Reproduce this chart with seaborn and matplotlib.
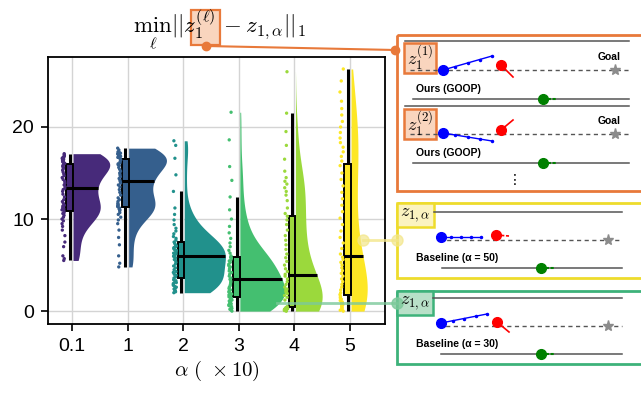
import numpy as np
import pandas as pd
import matplotlib
matplotlib.use("Agg")
import matplotlib.pyplot as plt
from matplotlib.patches import Rectangle
import seaborn as sns

np.random.seed(3)

alpha_labels = ['0.1', '1', '2', '3', '4', '5']

vals_a01 = [5.5, 5.7, 6.0, 7.0, 7.5, 8.2, 8.8, 9.2, 9.5, 9.8, 10.0, 10.2, 10.4, 10.6, 10.7,
            10.9, 11.0, 11.1, 11.2, 11.3, 11.4, 11.5, 11.7, 11.9, 12.1, 12.4, 12.7, 13.0, 13.2, 13.35,
            13.5, 13.7, 13.9, 14.1, 14.3, 14.5, 14.7, 14.9, 15.1, 15.3, 15.45, 15.6, 15.7, 15.8, 15.9,
            16.05, 16.1, 16.2, 16.25, 16.3, 16.4, 16.45, 16.5, 16.6, 16.65, 16.7, 16.8, 16.9, 17.0, 17.1]
vals_a1 = [4.8, 5.2, 6.0, 7.2, 8.0, 8.8, 9.5, 9.9, 10.2, 10.5, 10.7, 10.9, 11.0, 11.1, 11.2,
           11.35, 11.4, 11.5, 11.6, 11.7, 11.9, 12.1, 12.3, 12.6, 12.9, 13.2, 13.5, 13.7, 13.9, 14.05,
           14.2, 14.4, 14.6, 14.8, 15.0, 15.2, 15.4, 15.6, 15.8, 15.9, 16.0, 16.1, 16.25, 16.4, 16.5,
           16.65, 16.7, 16.75, 16.8, 16.85, 16.9, 16.95, 17.0, 17.05, 17.1, 17.15, 17.2, 17.3, 17.5, 17.7]
vals_a2 = [2.0, 2.1, 2.2, 2.3, 2.4, 2.5, 2.6, 2.7, 2.8, 2.9, 3.0, 3.1, 3.2, 3.3, 3.4,
           3.6, 3.7, 3.9, 4.0, 4.2, 4.3, 4.5, 4.7, 4.9, 5.1, 5.3, 5.5, 5.6, 5.8, 5.95,
           6.05, 6.1, 6.2, 6.3, 6.4, 6.5, 6.6, 6.7, 6.8, 6.9, 7.0, 7.1, 7.2, 7.35, 7.5,
           7.7, 7.9, 8.1, 8.4, 8.7, 9.0, 9.4, 9.9, 10.5, 11.2, 13.0, 14.8, 16.6, 18.0, 18.5]
vals_a3 = [0.0, 0.1, 0.2, 0.3, 0.4, 0.5, 0.6, 0.7, 0.8, 0.9, 1.0, 1.1, 1.2, 1.3, 1.4,
           1.55, 1.65, 1.75, 1.85, 1.95, 2.05, 2.15, 2.3, 2.45, 2.6, 2.75, 2.9, 3.1, 3.25, 3.45,
           3.6, 3.8, 4.0, 4.2, 4.35, 4.5, 4.65, 4.8, 4.95, 5.1, 5.3, 5.45, 5.6, 5.75, 5.85,
           6.0, 6.3, 6.6, 7.0, 7.4, 7.9, 8.5, 9.2, 10.0, 11.0, 12.4, 14.2, 15.7, 18.6, 21.6]
vals_a4 = [0.0, 0.03, 0.06, 0.09, 0.12, 0.15, 0.18, 0.21, 0.24, 0.27, 0.3, 0.32, 0.34, 0.36, 0.38,
           0.5, 1.2, 1.5, 1.7, 1.9, 2.0, 2.1, 2.2, 2.3, 2.4, 2.6, 2.9, 3.2, 3.5, 3.8,
           4.0, 4.3, 4.6, 5.0, 5.4, 5.8, 6.2, 6.7, 7.2, 7.7, 8.2, 8.8, 9.4, 9.9, 10.3,
           10.6, 11.2, 12.0, 12.6, 13.0, 13.4, 13.8, 14.1, 14.5, 15.2, 16.5, 18.0, 19.5, 21.5, 26.0]
vals_a5 = [0.0, 0.1, 0.2, 0.3, 0.4, 0.5, 0.6, 0.7, 0.8, 0.9, 1.0, 1.15, 1.3, 1.45, 1.6,
           1.8, 2.0, 2.3, 2.6, 2.9, 3.2, 3.5, 3.8, 4.1, 4.4, 4.7, 5.0, 5.3, 5.6, 5.85,
           6.2, 6.8, 7.4, 8.0, 8.7, 9.4, 10.1, 10.8, 11.5, 12.2, 12.9, 13.6, 14.3, 15.0, 15.8,
           16.3, 16.8, 17.3, 17.8, 18.3, 18.8, 19.4, 20.0, 20.6, 21.3, 22.0, 22.8, 23.8, 25.0, 26.3]

all_vals = [vals_a01, vals_a1, vals_a2, vals_a3, vals_a4, vals_a5]
cmap_pos = [0.12, 0.3, 0.5, 0.7, 0.85, 1.0]
# max half width of each cloud, in x units
half_widths = [0.68, 0.70, 0.76, 0.83, 0.50, 0.31]

orange = '#E8793A'
yellow = '#EEDC2C'
green = '#3DB27A'

plt.rcParams['font.family'] = ['Liberation Sans', 'DejaVu Sans']
plt.rcParams['mathtext.fontset'] = 'cm'

rows = []
for i, (lab, v) in enumerate(zip(alpha_labels, all_vals)):
    for y in v:
        rows.append({'alpha': lab, 'pos': i, 'value': y})
df = pd.DataFrame(rows)
df['pos_box'] = df['pos'] - 0.04
df['pos_strip'] = df['pos'] - 0.15

pal = {lab: plt.cm.viridis(p) for lab, p in zip(alpha_labels, cmap_pos)}

fig = plt.figure(figsize=(6.41, 3.95), dpi=100)
ax = fig.add_axes([48 / 641, 1 - 324 / 395, 337 / 641, 267 / 395])

sns.violinplot(data=df, x='pos', y='value', hue='alpha', palette=pal, native_scale=True,
               inner=None, cut=0, density_norm='width', width=1.6, bw_adjust=0.85,
               linewidth=0, saturation=1, legend=False, ax=ax)

# half violins on the right side, scaled to the widths of the original
med_ends = []
for i, coll in enumerate(ax.collections):
    path = coll.get_paths()[0]
    verts = path.vertices.copy()
    center = (verts[:, 0].min() + verts[:, 0].max()) / 2
    verts[:, 0] = center + (verts[:, 0] - center) * half_widths[i] / 0.8
    right = verts[verts[:, 0] > center + 1e-9]
    right = right[np.argsort(right[:, 1])]
    med = np.median(all_vals[i])
    med_ends.append((med, np.interp(med, right[:, 1], right[:, 0])))
    verts[:, 0] = np.maximum(verts[:, 0], center + 0.02)
    path.vertices = verts

sns.boxplot(data=df, x='pos_box', y='value', hue='alpha', palette=pal, native_scale=True,
            width=0.12, showfliers=False, showcaps=False, linecolor='black', linewidth=1.4,
            whiskerprops=dict(linewidth=2.2), saturation=1, legend=False, ax=ax)

sns.stripplot(data=df, x='pos_strip', y='value', hue='alpha', palette=pal, native_scale=True,
              jitter=0.03, size=2.4, linewidth=0, legend=False, ax=ax)

for i, (med, xr) in enumerate(med_ends):
    ax.plot([i - 0.1, xr], [med, med], color='black', lw=2.2, solid_capstyle='butt', zorder=5)

ax.set_xlim(-0.43, 5.63)
ax.set_ylim(-1.4, 27.6)
ax.set_xticks(range(len(alpha_labels)))
ax.set_xticklabels(alpha_labels)
ax.set_yticks([0, 10, 20])
ax.grid(True, color='#d4d4d4', lw=1)
ax.set_axisbelow(True)
for s in ax.spines.values():
    s.set_color('black')
    s.set_linewidth(1.3)
ax.tick_params(direction='out', length=5, width=1.2, labelsize=14, pad=5)
ax.set_xlabel(r'$\alpha\ (\ \times 10)$', fontsize=15, labelpad=3)
ax.set_ylabel('')

# overlay in pixel coordinates for the illustration panels
ov = fig.add_axes([0, 0, 1, 1], zorder=10)
ov.set_xlim(0, 641)
ov.set_ylim(395, 0)
ov.axis('off')
ov.patch.set_visible(False)

ov.add_patch(Rectangle((191, 10), 29, 35, facecolor='#F9D5BE', edgecolor=orange, lw=1.6, zorder=2))
ov.text(219, 30, r'$\min_{\ell}||z_1^{(\ell)} - z_{1,\alpha}||_1$', ha='center', va='center',
        fontsize=16.5, zorder=5)
ov.plot([206, 395], [46, 50], color=orange, lw=1.5, zorder=3)
ov.plot([206, 395], [46, 50], 'o', color=orange, ms=6, zorder=4)

# connectors from the violins
ov.plot([363, 397], [240, 240], color='#F3E68A', lw=2, alpha=0.8, zorder=3)
ov.plot([363, 397], [240, 240], 'o', color='#F3E68A', ms=8, alpha=0.7, zorder=3)
ov.plot([277, 397], [303, 303], color='#7CC99A', lw=2, alpha=0.8, zorder=3)
ov.plot([397], [303], 'o', color='#7CC99A', ms=8, alpha=0.8, zorder=3)

ov.add_patch(Rectangle((397, 35), 260, 156, fill=False, edgecolor=orange, lw=2))
ov.add_patch(Rectangle((397, 203), 260, 75, fill=False, edgecolor=yellow, lw=2))
ov.add_patch(Rectangle((397, 291), 260, 73, fill=False, edgecolor=green, lw=2))


def scene(y_top, y_dash, y_base, blue, blue_end, red, red_end, label, x0=405, x1=629, red_dashed=False):
    if y_top is not None:
        ov.plot([x0, x1], [y_top, y_top], color='#555555', lw=1.1)
    ov.plot([x0 + 5, x1], [y_dash, y_dash], color='#555555', lw=1, ls=(0, (3, 2.5)))
    ov.plot([blue[0], blue_end[0]], [blue[1], blue_end[1]], color='blue', lw=1)
    bx = np.linspace(blue[0], blue_end[0], 5)[1:]
    by = np.linspace(blue[1], blue_end[1], 5)[1:]
    ov.plot(bx, by, 'o', color='blue', ms=1.5)
    ov.plot(blue[0], blue[1], 'o', color='blue', ms=7)
    ov.plot([red[0], red_end[0]], [red[1], red_end[1]], color='red', lw=1.2,
            ls=(0, (2, 1)) if red_dashed else '-')
    ov.plot(red[0], red[1], 'o', color='red', ms=7)
    ov.plot(x1 - 14, y_dash, '*', color='#8c8c8c', ms=8)
    ov.text(416, y_base - 10, label, fontsize=7.5, fontweight='bold', va='center', ha='left')
    ov.plot([x0 + 8, x1], [y_base, y_base], color='#555555', lw=1.1)
    gx = blue[0] + 100
    ov.plot([gx, gx + 13], [y_base, y_base], color='green', lw=1.5, ls=(0, (1.5, 0.8)))
    ov.plot(gx, y_base, 'o', color='green', ms=7)


scene(41, 70, 99, (443, 70), (492, 56), (501, 65), (513, 77), 'Ours (GOOP)')
ov.text(609, 57, 'Goal', fontsize=7.5, fontweight='bold', ha='center', va='center')
scene(106, 134, 163, (443, 133), (492, 141), (501, 130), (513, 120), 'Ours (GOOP)')
ov.text(609, 121, 'Goal', fontsize=7.5, fontweight='bold', ha='center', va='center')
ov.text(515, 180, '\u22ee', fontsize=10, ha='center', va='center', family='DejaVu Sans')

scene(212, 240, 268, (441, 237), (481, 237), (496, 235), (509, 236), 'Baseline (\u03b1 = 50)',
      x0=434, x1=622, red_dashed=True)
scene(298, 326, 354, (441, 323), (487, 314), (497, 322), (509, 332), 'Baseline (\u03b1 = 30)',
      x0=433, x1=622)

# label boxes
ov.add_patch(Rectangle((404, 43), 32, 30, facecolor='#F9D5BE', edgecolor=orange, lw=1.8))
ov.text(420, 58, r'$z_1^{(1)}$', fontsize=13, ha='center', va='center')
ov.add_patch(Rectangle((404, 109), 32, 30, facecolor='#F9D5BE', edgecolor=orange, lw=1.8))
ov.text(420, 124, r'$z_1^{(2)}$', fontsize=13, ha='center', va='center')
ov.add_patch(Rectangle((397, 203), 37, 24, facecolor='#FBF3C0', edgecolor=yellow, lw=1.8))
ov.text(415, 215, r'$z_{1,\alpha}$', fontsize=13, ha='center', va='center')
ov.add_patch(Rectangle((397, 291), 36, 24, facecolor='#B8E0C8', edgecolor=green, lw=1.8))
ov.text(415, 303, r'$z_{1,\alpha}$', fontsize=13, ha='center', va='center')

fig.savefig('out.png', dpi=100)
